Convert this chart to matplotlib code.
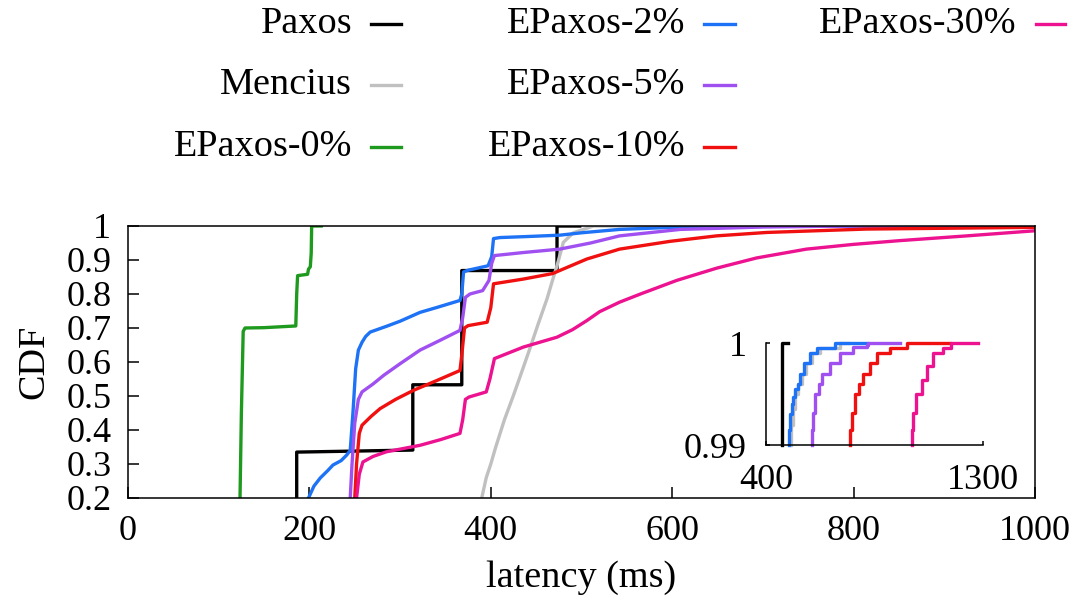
import matplotlib
matplotlib.use("Agg")
import matplotlib.pyplot as plt
from matplotlib.lines import Line2D

plt.rcParams['font.family'] = ['Liberation Serif', 'DejaVu Serif']

# ---------------- data ----------------
series_names = ["Paxos", "Mencius", "EPaxos-0%", "EPaxos-2%", "EPaxos-5%", "EPaxos-10%", "EPaxos-30%"]
series_colors = ["#000000", "#c0c0c0", "#1e9a1e", "#1e72f5", "#a050f0", "#f01010", "#ec1290"]

paxos_x = [186, 186, 314, 314, 368, 368, 473, 473, 498]
paxos_y = [0.0, 0.335, 0.341, 0.533, 0.533, 0.869, 0.869, 1.0, 1.0]

mencius_x = [388, 390, 395, 400, 405, 415, 425, 434, 443, 452, 462, 468, 473, 480, 491, 513, 1000]
mencius_y = [0.15, 0.2, 0.26, 0.30, 0.346, 0.43, 0.502, 0.57, 0.639, 0.71, 0.786, 0.84, 0.883, 0.952, 0.98, 1.0, 1.0]

ep0_x = [122, 123.5, 125, 127, 129, 150, 185, 186, 187, 198, 199, 201, 202, 202.5, 213]
ep0_y = [0.0, 0.2, 0.45, 0.69, 0.70, 0.701, 0.706, 0.80, 0.854, 0.858, 0.873, 0.88, 0.92, 1.0, 1.0]

ep2_x = [198, 199, 205, 212, 220, 226, 235, 241, 245, 248, 251, 254, 258, 262, 267, 285, 300, 322, 340, 366,
         368, 370, 375, 397, 401, 403, 410, 440, 476, 500, 542, 600, 700, 1000]
ep2_y = [0.15, 0.2, 0.235, 0.259, 0.28, 0.297, 0.31, 0.326, 0.34, 0.45, 0.58, 0.635, 0.658, 0.675, 0.688, 0.705,
         0.72, 0.746, 0.76, 0.781, 0.80, 0.865, 0.87, 0.883, 0.91, 0.963, 0.966, 0.969, 0.973, 0.98, 0.99, 0.996,
         0.999, 1.0]

ep5_x = [244, 245, 247, 250, 254, 258, 270, 282, 300, 322, 345, 366, 369, 372, 377, 391, 398, 401, 404, 436,
         476, 510, 542, 609, 700, 800, 1000]
ep5_y = [0.15, 0.2, 0.3, 0.42, 0.49, 0.512, 0.535, 0.561, 0.595, 0.635, 0.665, 0.693, 0.73, 0.79, 0.80, 0.81,
         0.84, 0.89, 0.913, 0.922, 0.932, 0.95, 0.971, 0.99, 0.997, 1.0, 1.0]

ep10_x = [249, 250, 252, 255, 258, 268, 278, 295, 315, 340, 366, 368, 371, 375, 396, 400, 403, 436, 468,
          506, 542, 598, 649, 704, 814, 1000]
ep10_y = [0.15, 0.2, 0.3, 0.39, 0.414, 0.44, 0.463, 0.49, 0.517, 0.545, 0.575, 0.62, 0.70, 0.707, 0.717,
          0.76, 0.83, 0.844, 0.86, 0.903, 0.932, 0.955, 0.971, 0.981, 0.991, 0.996]

ep30_x = [251, 252, 255, 259, 270, 285, 322, 345, 366, 369, 372, 376, 395, 399, 404, 436, 473, 490, 506, 520,
          542, 565, 605, 649, 693, 748, 800, 851, 925, 1000]
ep30_y = [0.15, 0.2, 0.27, 0.306, 0.322, 0.336, 0.355, 0.372, 0.39, 0.43, 0.49, 0.497, 0.512, 0.55, 0.61,
          0.644, 0.673, 0.695, 0.722, 0.748, 0.776, 0.80, 0.84, 0.876, 0.906, 0.932, 0.946, 0.957, 0.971, 0.986]

# tails (inset, 0.99 .. 1)
paxos_tail_x = [466, 466, 490]
paxos_tail_y = [0.99, 1.0, 1.0]
mencius_tail_x = [503, 503, 511, 520, 532, 548, 566, 590, 625, 707, 740]
mencius_tail_y = [0.99, 0.992, 0.9935, 0.995, 0.996, 0.997, 0.998, 0.999, 0.9995, 1.0, 1.0]
ep2_tail_x = [494, 494, 500, 507, 514, 521, 532, 542, 556, 583, 611, 687, 818]
ep2_tail_y = [0.99, 0.9915, 0.993, 0.994, 0.9947, 0.9955, 0.996, 0.997, 0.998, 0.999, 0.9995, 1.0, 1.0]
ep5_tail_x = [590, 590, 597, 604, 618, 632, 666, 707, 762, 818, 824, 955]
ep5_tail_y = [0.99, 0.9915, 0.9931, 0.995, 0.996, 0.997, 0.998, 0.999, 0.9996, 0.9998, 1.0, 1.0]
ep10_tail_x = [749, 749, 756, 769, 786, 804, 830, 859, 914, 983, 1162]
ep10_tail_y = [0.99, 0.9915, 0.9931, 0.995, 0.996, 0.997, 0.998, 0.999, 0.9995, 1.0, 1.0]
ep30_tail_x = [1004, 1004, 1010, 1024, 1045, 1066, 1093, 1134, 1169, 1279]
ep30_tail_y = [0.99, 0.9915, 0.9931, 0.995, 0.9964, 0.9977, 0.999, 0.9995, 1.0, 1.0]

x_ticks = [0, 200, 400, 600, 800, 1000]
y_ticks = [0.2, 0.3, 0.4, 0.5, 0.6, 0.7, 0.8, 0.9, 1.0]
y_tick_labels = ["0.2", "0.3", "0.4", "0.5", "0.6", "0.7", "0.8", "0.9", "1"]
inset_x_ticks = [400, 1300]
inset_x_labels = ["400", "1300"]
inset_y_ticks = [0.99, 1.0]
inset_y_labels = ["0.99", "1"]

main_series = [(paxos_x, paxos_y), (mencius_x, mencius_y), (ep0_x, ep0_y), (ep2_x, ep2_y),
               (ep5_x, ep5_y), (ep10_x, ep10_y), (ep30_x, ep30_y)]
tail_series = [(paxos_tail_x, paxos_tail_y, series_colors[0]), (mencius_tail_x, mencius_tail_y, series_colors[1]),
               (ep2_tail_x, ep2_tail_y, series_colors[3]), (ep5_tail_x, ep5_tail_y, series_colors[4]),
               (ep10_tail_x, ep10_tail_y, series_colors[5]), (ep30_tail_x, ep30_tail_y, series_colors[6])]

# ---------------- figure ----------------
W, H = 1078, 596
FS = 26
LFS = 27.5
LW = 2.4
fig = plt.figure(figsize=(W / 100, H / 100), dpi=100)

L, R, T, B = 128, 1035, 226, 498
ax = fig.add_axes([L / W, 1 - B / H, (R - L) / W, (B - T) / H])
lines = []
for (xs, ys), c in zip(main_series, series_colors):
    ln, = ax.plot(xs, ys, color=c, lw=LW, solid_joinstyle='round')
    lines.append(ln)

ax.set_xlim(0, 1000)
ax.set_ylim(0.2, 1.0)
ax.set_xticks(x_ticks)
ax.set_yticks(y_ticks)
ax.set_yticklabels(y_tick_labels)
ax.tick_params(direction='in', length=8, width=1.1, labelsize=FS, pad=12)
for s in ax.spines.values():
    s.set_linewidth(1.1)
ax.set_xlabel("latency (ms)", fontsize=LFS, labelpad=9)
ax.set_ylabel("CDF", fontsize=LFS, labelpad=11)

# inset
il, ir, it, ib = 766, 983, 343, 445
axi = fig.add_axes([il / W, 1 - ib / H, (ir - il) / W, (ib - it) / H])
axi.set_facecolor('none')
for xs, ys, c in tail_series:
    axi.step(xs, ys, where='post', color=c, lw=LW, clip_on=False)
axi.set_xlim(400, 1300)
axi.set_ylim(0.99, 1.0)
axi.spines['top'].set_visible(False)
axi.spines['right'].set_visible(False)
for s in ('left', 'bottom'):
    axi.spines[s].set_linewidth(1.1)
axi.set_xticks(inset_x_ticks)
axi.set_xticklabels(inset_x_labels)
axi.set_yticks(inset_y_ticks)
axi.set_yticklabels(inset_y_labels)
axi.tick_params(direction='in', length=3, width=1.1, labelsize=FS, pad=14)

# legend (gnuplot style: text then sample)
legend_layout = [  # (text right edge px, sample start px, sample end px, row y px)
    (352, 371, 401, 24), (352, 371, 401, 85), (352, 371, 401, 147),
    (685, 704, 735, 24), (685, 704, 735, 85), (685, 704, 735, 147),
    (1016, 1036, 1065, 24),
]
for name, ln, (tx, sx0, sx1, ry) in zip(series_names, lines, legend_layout):
    fig.text(tx / W, 1 - ry / H, name, ha='right', va='center', fontsize=LFS)
    fig.add_artist(Line2D([sx0 / W, sx1 / W], [1 - ry / H, 1 - ry / H],
                          color=ln.get_color(), lw=LW, transform=fig.transFigure))

fig.savefig("out.png", dpi=100)
